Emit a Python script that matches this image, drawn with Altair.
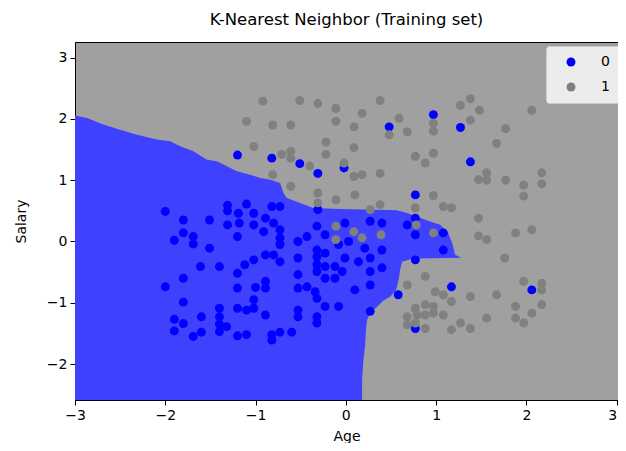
import altair as alt
import pandas as pd

TITLE = "K-Nearest Neighbor (Training set)"
X_LABEL = "Age"
Y_LABEL = "Salary"
X_DOMAIN = [-3.0, 3.015]
Y_DOMAIN = [-2.587, 3.255]
X_TICKS = [-3, -2, -1, 0, 1, 2, 3]
Y_TICKS = [-2, -1, 0, 1, 2, 3]
CLASSES = ["0", "1"]
CLASS_COLORS = ["#0000ff", "#808080"]
REGION_BLUE = "#4040ff"
REGION_GRAY = "#a0a0a0"

# decision boundary of class 0 region (right edge of blue area for each salary)
boundary_salary = [2.054, 2.016, 1.907, 1.825, 1.743, 1.662, 1.634, 1.552, 1.471, 1.335,
                   1.307, 1.144, 1.090, 1.036, 1.008, 0.954, 0.791, 0.709, 0.627, 0.546,
                   0.534, 0.526, 0.518, 0.510, 0.464, 0.408, 0.338, 0.273, 0.142, -0.021,
                   -0.217, -0.266, -0.275, -0.283, -0.332, -0.462, -0.593, -0.789, -0.904, -0.969,
                   -1.067, -1.165, -1.279, -1.410, -1.688, -1.982, -2.260, -2.6]
boundary_age = [-3.0, -2.868, -2.685, -2.500, -2.315, -2.094, -1.946, -1.835, -1.688, -1.540,
                -1.429, -1.207, -1.060, -0.949, -0.838, -0.728, -0.691, -0.654, -0.506, -0.359,
                -0.141, 0.048, 0.343, 0.565, 0.676, 0.786, 0.912, 1.045, 1.133, 1.177,
                1.211, 1.277, 0.934, 0.734, 0.624, 0.601, 0.590, 0.557, 0.491, 0.413,
                0.347, 0.269, 0.236, 0.225, 0.214, 0.192, 0.180, 0.180]

# class 0 points
blue_age = [-2.00, -1.80, -1.51, -1.31, -1.31, -1.31, -1.19, -1.18, -1.10, -1.02,
            -1.02, -1.80, -1.69, -1.90, -1.69, -1.51, -1.20, -1.61, -1.40, -1.20,
            -1.12, -1.02, -1.80, -2.00, -1.20, -1.00, -1.80, -1.02, -1.02, -1.10,
            -1.20, -1.40, -1.40, -1.40, -1.40, -1.32, -1.60, -1.90, -1.80, -1.90,
            -1.60, -1.69, -1.20, -1.10,
            -0.82, -0.73, -0.89, -0.91, -0.80, -0.73, -0.73, -0.73, -0.53, -0.43,
            -0.32, -0.23, -0.32, -0.32, -0.32, -0.32, -0.23, -0.23, -0.23, -0.53,
            -0.89, -0.80, -0.73, -0.53, -0.89, -0.89, -0.53, -0.43, -0.34, -0.32,
            -0.23, -0.53, -0.53, -0.89, -0.32, -0.32, -0.82, -0.73, -0.60, -0.82,
            -0.01, 0.27, 0.40, 0.68, 0.77, 0.77, -0.08, 0.03, 0.21, 0.40,
            -0.01, 0.14, 0.27, 0.40, 0.27, 0.27, 0.10, -0.04, 0.77, 0.58,
            -0.08, 0.27, 0.77, -0.12, -0.12, -0.31,
            -1.20, -0.82, -0.51, -0.31, -0.02, 0.48, 0.97, 1.27, 1.38, 0.77,
            1.08, 1.08, 1.17, 2.06]
blue_salary = [0.49, 0.35, 0.35, 0.59, 0.50, 0.27, 0.46, 0.30, 0.61, 0.46,
               0.27, 0.14, 0.08, 0.02, -0.04, -0.11, 0.08, -0.41, -0.41, -0.52,
               -0.38, -0.30, -0.60, -0.74, -0.76, -0.75, -0.99, -0.95, -1.09, -1.12,
               -1.09, -1.09, -1.23, -1.35, -1.47, -1.39, -1.23, -1.27, -1.34, -1.46,
               -1.48, -1.55, -1.54, -1.52,
               0.57, 0.57, 0.38, 0.16, 0.30, 0.19, 0.06, -0.05, 0.00, 0.08,
               0.25, 0.11, -0.14, -0.25, -0.38, -0.49, -0.19, -0.41, -0.60, -0.27,
               -0.22, -0.22, -0.33, -0.54, -0.65, -0.76, -0.76, -0.74, -0.82, -0.93,
               -1.06, -1.12, -1.23, -1.20, -1.23, -1.33, -1.52, -1.48, -1.48, -1.61,
               0.30, 0.33, 0.30, 0.27, 0.38, 0.11, -0.05, 0.00, -0.11, -0.14,
               -0.27, -0.33, -0.27, -0.43, -0.49, -0.71, -0.79, -0.49, -0.30, -0.87,
               -1.06, -1.14, -1.42, -0.41, -0.60, 0.52,
               1.41, 1.36, 1.27, 1.11, 1.20, 1.87, 2.07, 1.86, 1.30, 0.76,
               0.14, -0.14, -0.74, -0.79]

# class 1 points
gray_age = [-1.10, -0.92, -1.02, -0.51, -0.31, -0.11, 0.38, 0.18, -0.11, -0.81,
            -0.61, 0.09, 0.59, 0.68, 0.48, 0.97, 0.97, -0.71, -0.61, -0.61,
            -0.22, -0.22, 0.09, 0.77, 0.88, 0.97, -0.81, -0.40, -0.02, 0.09,
            0.18, 0.38, -0.61, -0.31, -0.31, -0.11, 0.10, 0.38, 0.97, 0.77,
            0.27, 1.27, 1.38, 1.48, 1.38, 2.06, 1.77, 1.67, 1.56, 1.47,
            1.56, 1.77, 1.97, 1.97, 2.17, 2.17, 1.08, 1.17, 1.47, 1.88,
            2.06, 1.47, 1.56, 0.97, 1.76, 1.97, 2.17, 2.17, 0.99, 1.08,
            1.17, 1.38, 1.67, 0.97, 0.97, 1.08, 1.88, 2.17, 2.06, 1.56,
            1.88, 1.97, 1.27, 1.17, 1.38, 0.68, 0.88, 0.77, 0.88, 0.68,
            0.79, 0.88, 0.68, 0.77, 0.88, -0.11, -0.11, 0.09, 0.18, 0.39,
            0.78]
gray_salary = [1.96, 2.29, 1.55, 2.30, 2.25, 2.17, 2.30, 2.09, 1.96, 1.90,
               1.90, 1.87, 2.01, 1.79, 1.74, 1.93, 1.80, 1.42, 1.47, 1.36,
               1.62, 1.42, 1.53, 1.39, 1.28, 1.44, 1.09, 1.23, 1.28, 1.06,
               1.09, 1.11, 0.90, 0.79, 0.63, 0.68, 0.76, 0.60, 0.75, 0.55,
               0.52, 2.22, 2.33, 2.14, 1.98, 2.14, 1.84, 1.60, 1.12, 1.01,
               1.00, 1.00, 0.92, 0.74, 1.12, 0.94, 0.57, 0.55, 0.38, 0.14,
               0.19, 0.09, 0.03, 0.14, -0.27, -0.65, -0.68, -0.79, -0.82, -0.87,
               -0.98, -0.90, -0.87, -1.06, -1.17, -1.20, -1.06, -1.03, -1.17, -1.25,
               -1.25, -1.33, -1.33, -1.44, -1.42, -0.71, -0.57, -1.09, -1.03, -1.23,
               -1.20, -1.20, -1.36, -1.33, -1.42, 0.25, 0.03, 0.16, 0.06, 0.11,
               0.27]

region = pd.DataFrame({
    "salary": boundary_salary,
    "age": boundary_age,
    "age_left": [X_DOMAIN[0]] * len(boundary_age),
})
points = pd.DataFrame({
    "age": blue_age + gray_age,
    "salary": blue_salary + gray_salary,
    "cls": [CLASSES[0]] * len(blue_age) + [CLASSES[1]] * len(gray_age),
})

xscale = alt.Scale(domain=X_DOMAIN, nice=False, zero=False)
yscale = alt.Scale(domain=Y_DOMAIN, nice=False, zero=False)
xaxis = alt.Axis(
    values=X_TICKS, title=X_LABEL, titlePadding=7, format="d",
    labelAlign=alt.condition("datum.value >= 3", alt.value("right"), alt.value("center")),
)
yaxis = alt.Axis(values=Y_TICKS, title=Y_LABEL, titlePadding=18, format="d")

area = alt.Chart(region).mark_area(
    orient="horizontal", color=REGION_BLUE, opacity=1, clip=True, interpolate="linear"
).encode(
    y=alt.Y("salary:Q", scale=yscale, axis=yaxis),
    x=alt.X("age:Q", scale=xscale, axis=xaxis, stack=False),
    x2="age_left:Q",
)

pts = alt.Chart(points).mark_circle(size=80, opacity=1, clip=True).encode(
    x=alt.X("age:Q", scale=xscale, axis=xaxis),
    y=alt.Y("salary:Q", scale=yscale, axis=yaxis),
    color=alt.Color(
        "cls:N",
        scale=alt.Scale(domain=CLASSES, range=CLASS_COLORS),
        legend=alt.Legend(
            title=None, orient="none", legendX=471, legendY=4,
            fillColor="#ececec", strokeColor="#cccccc", cornerRadius=3,
            padding=9, symbolType="circle", symbolSize=80, symbolStrokeWidth=0,
            symbolOffset=9, labelOffset=23, labelFontSize=14, labelFont="DejaVu Sans",
            labelColor="black", rowPadding=11, symbolOpacity=1,
        ),
    ),
)

chart = alt.layer(area, pts).properties(
    width=543,
    height=358,
    title=alt.TitleParams(
        text=TITLE, font="DejaVu Sans", fontSize=16.5, fontWeight="normal",
        color="black", anchor="middle", offset=14,
    ),
    padding={"left": 67, "top": 34, "right": 0, "bottom": 43},
    autosize=alt.AutoSizeParams(type="none"),
).configure_view(
    fill=REGION_GRAY, stroke="black", strokeWidth=1
).configure_axis(
    domainColor="black", domainWidth=1, tickColor="black", tickSize=5, tickWidth=1,
    labelColor="black", labelFont="DejaVu Sans", labelFontSize=14, labelPadding=3,
    titleFont="DejaVu Sans", titleFontSize=14, titleFontWeight="normal", titleColor="black",
    grid=False, zindex=1, labelFlush=False, labelOverlap=False,
)

chart.save("out.html", embed_options={"renderer": "svg", "actions": False})
